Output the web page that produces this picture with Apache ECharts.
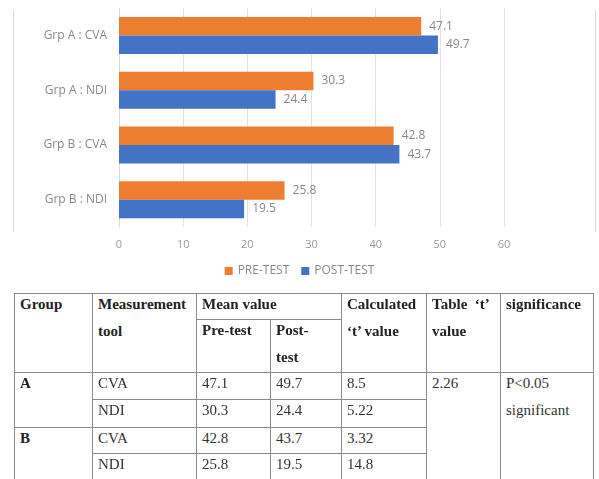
<!DOCTYPE html>
<html><head><meta charset="utf-8">
<script src="https://cdn.jsdelivr.net/npm/echarts@6/dist/echarts.min.js"></script>
<style>
html,body{margin:0;padding:0;background:#fff;width:599px;height:479px;overflow:hidden;}
#chart{position:absolute;left:0;top:0;width:599px;height:285px;}
#tbl{position:absolute;left:0;top:0;width:599px;height:479px;font-family:"Liberation Serif","Times New Roman",serif;font-size:15px;color:#333;}
.c{position:absolute;box-sizing:border-box;border:1px solid #8a8a8a;background:#fff;padding:0 5px;overflow:hidden;}
.c .t{position:relative;top:-3px;line-height:27px;white-space:nowrap;}
.b{font-weight:bold;color:#222;}
</style></head>
<body>
<div id="chart"></div>
<div id="tbl"></div>
<script>
// ---- data ----
const categories = ["Grp A : CVA", "Grp A : NDI", "Grp B : CVA", "Grp B : NDI"];
const preTest = [47.1, 30.3, 42.8, 25.8];
const postTest = [49.7, 24.4, 43.7, 19.5];
const seriesNames = ["PRE-TEST", "POST-TEST"];
const xTicks = [0, 10, 20, 30, 40, 50, 60];

const groups = ["A", "B"];
const tools = ["CVA", "NDI"];
const calcT = [8.5, 5.22, 3.32, 14.8];
const tableT = "2.26";
const significance = ["P<0.05", "significant"];

// ---- chart ----
const chart = echarts.init(document.getElementById('chart'));
const lblFont = 'Open Sans';
chart.setOption({
  animation: false,
  grid: {left: 119, right: 95, top: 8, height: 219, containLabel: false},
  legend: {
    data: seriesNames, top: 260, left: 'center', itemWidth: 8, itemHeight: 8, itemGap: 12,
    icon: 'rect', textStyle: {color: '#888', fontSize: 12, fontFamily: lblFont}
  },
  xAxis: {
    type: 'value', min: xTicks[0], max: xTicks[xTicks.length - 1], interval: 10,
    axisLine: {show: false}, axisTick: {show: false},
    splitLine: {lineStyle: {color: '#e2e2e2'}},
    axisLabel: {color: '#999', fontSize: 11, margin: 12, fontFamily: lblFont}
  },
  yAxis: {
    type: 'category', data: categories, inverse: true,
    axisLine: {show: true, lineStyle: {color: '#d9d9d9'}}, axisTick: {show: false},
    axisLabel: {color: '#888', fontSize: 12, margin: 12, fontFamily: lblFont}
  },
  series: [
    {name: seriesNames[0], type: 'bar', data: preTest, barWidth: 18.5, barGap: '0%',
     itemStyle: {color: '#ED7D31'},
     label: {show: true, position: 'right', color: '#888', fontSize: 12, distance: 8, fontFamily: lblFont}},
    {name: seriesNames[1], type: 'bar', data: postTest, barWidth: 18.5, barGap: '0%',
     itemStyle: {color: '#4472C4'},
     label: {show: true, position: 'right', color: '#888', fontSize: 12, distance: 8, fontFamily: lblFont}}
  ],
  graphic: [
    {type: 'line', shape: {x1: 13.5, y1: 10, x2: 13.5, y2: 232}, style: {stroke: '#d9d9d9', lineWidth: 1}},
    {type: 'line', shape: {x1: 595.5, y1: 10, x2: 595.5, y2: 232}, style: {stroke: '#d9d9d9', lineWidth: 1}}
  ]
});

// ---- table ----
const colX = [14, 92, 196, 270, 341, 426, 500, 593];
const rowY = [293, 319, 372, 399, 427, 453, 481, 486];
const tbl = document.getElementById('tbl');
function cell(c0, c1, r0, r1, html, bold) {
  const d = document.createElement('div');
  d.className = 'c' + (bold ? ' b' : '');
  d.style.left = colX[c0] + 'px';
  d.style.top = rowY[r0] + 'px';
  d.style.width = (colX[c1] - colX[c0] + 1) + 'px';
  d.style.height = (rowY[r1] - rowY[r0] + 1) + 'px';
  const t = document.createElement('div');
  t.className = 't';
  t.innerHTML = html;
  d.appendChild(t);
  tbl.appendChild(d);
}
cell(0, 1, 0, 2, 'Group', true);
cell(1, 2, 0, 2, 'Measurement<br>tool', true);
cell(2, 4, 0, 1, 'Mean value', true);
cell(2, 3, 1, 2, 'Pre-test', true);
cell(3, 4, 1, 2, 'Post-<br>test', true);
cell(4, 5, 0, 2, 'Calculated<br>‘t’ value', true);
cell(5, 6, 0, 2, 'Table&nbsp;&nbsp;‘t’<br>value', true);
cell(6, 7, 0, 2, 'significance', true);
groups.forEach((g, gi) => {
  cell(0, 1, 2 + gi * 2, 4 + gi * 2, g, true);
  tools.forEach((tl, ti) => {
    const k = gi * 2 + ti;
    cell(1, 2, 2 + k, 3 + k, tl, false);
    cell(2, 3, 2 + k, 3 + k, preTest[k].toFixed(1), false);
    cell(3, 4, 2 + k, 3 + k, postTest[k].toFixed(1), false);
    cell(4, 5, 2 + k, 3 + k, String(calcT[k]), false);
  });
});
cell(5, 6, 2, 7, tableT, false);
cell(6, 7, 2, 7, significance.join('<br>'), false);
</script>
</body></html>
